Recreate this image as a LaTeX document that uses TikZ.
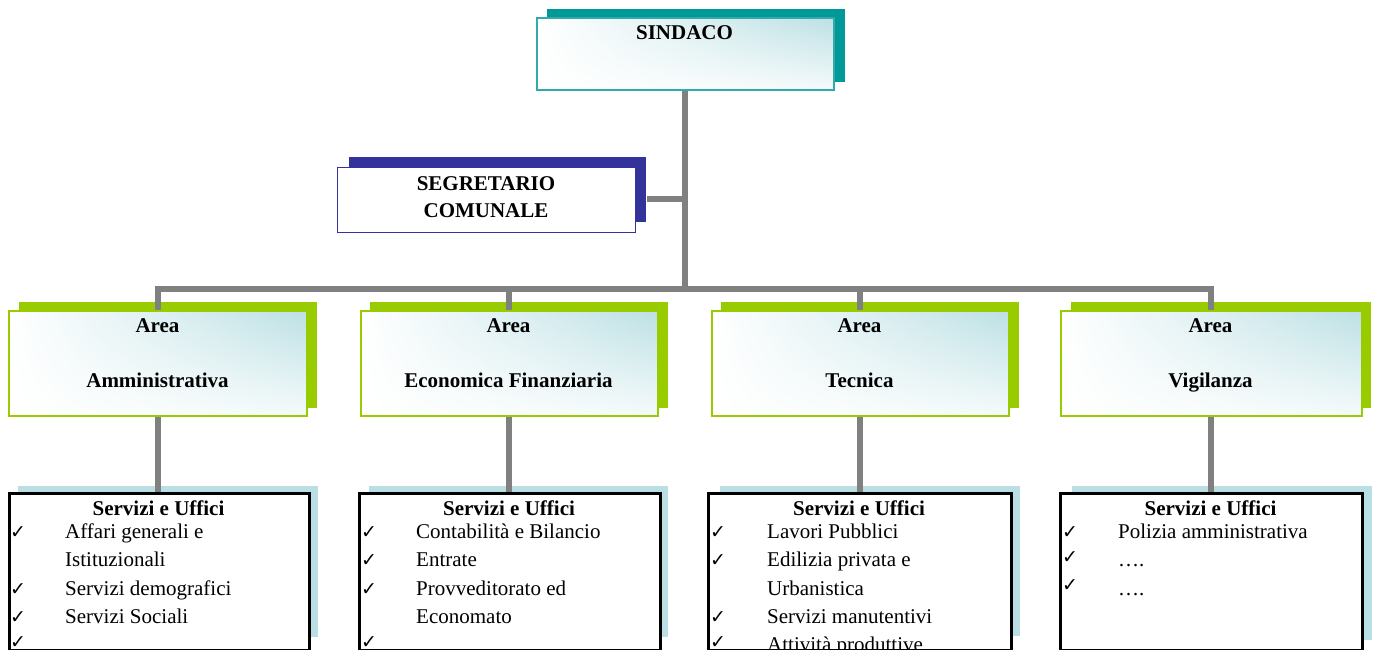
\documentclass[tikz,border=0pt]{standalone}
\usepackage{fontspec}
\usetikzlibrary{shadings}
\setmainfont{Liberation Serif}
\newfontfamily\symfnt{DejaVu Sans}
\definecolor{tealsh}{RGB}{0,153,153}
\definecolor{tealbd}{RGB}{50,170,170}
\definecolor{navy}{RGB}{51,51,153}
\definecolor{lgreen}{RGB}{153,204,0}
\definecolor{lblue}{RGB}{185,223,228}
\definecolor{lbluef}{RGB}{188,224,228}
\definecolor{conn}{RGB}{128,128,128}
\newcommand\fsz{\fontsize{21}{28}\selectfont}
\tikzset{
  box/.style={rectangle, inner sep=0, anchor=north west},
  gradbox/.style={box, line width=1.6pt, upper left=white, lower left=white, upper right=lbluef, lower right=lbluef!15},
  svcbox/.style={box, draw=black, line width=1.8pt, fill=white},
  txt/.style={anchor=base, inner sep=0, font=\fsz},
  btxt/.style={txt, font=\fsz\bfseries},
  itxt/.style={anchor=base west, inner sep=0, font=\fsz},
  chk/.style={anchor=base west, inner sep=0, font=\symfnt\fontsize{19}{19}\selectfont},
  connector/.style={draw=conn, line width=6pt},
}
\begin{document}
\begin{tikzpicture}[x=1pt,y=-1pt]
\useasboundingbox (0,0) rectangle (1377,650);
\clip (0,0) rectangle (1377,650);
\fill[white] (0,0) rectangle (1377,650);
% shadows
\fill[tealsh] (547,9) rectangle (845,82);
\fill[navy] (349,157) rectangle (646,222);
\foreach \x in {19,370,721}{\fill[lgreen] (\x,302) rectangle (\x+298,408);}
\fill[lgreen] (1071,302) rectangle (1371,408);
\fill[lblue] (18,486) rectangle (318,637);
\fill[lblue] (369,486) rectangle (668,637);
\fill[lblue] (720,486) rectangle (1020,636);
\fill[lblue] (1072,486) rectangle (1372,640);
% boxes
\node[gradbox, draw=tealbd, minimum width=297pt, minimum height=72pt] (sindaco) at (536,17) {};
\node[box, draw=navy, line width=1.4pt, fill=white, minimum width=298pt, minimum height=65pt] (segr) at (337,167) {};
\node[gradbox, draw=lgreen, minimum width=298pt, minimum height=105pt] (a1) at (8,310) {};
\node[gradbox, draw=lgreen, minimum width=297pt, minimum height=105pt] (a2) at (360,310) {};
\node[gradbox, draw=lgreen, minimum width=297pt, minimum height=105pt] (a3) at (711,310) {};
\node[gradbox, draw=lgreen, minimum width=301pt, minimum height=105pt] (a4) at (1060,310) {};
\node[svcbox, minimum width=299pt, minimum height=156pt] (s1) at (9,493) {};
\node[svcbox, minimum width=300pt, minimum height=156pt] (s2) at (359,493) {};
\node[svcbox, minimum width=302pt, minimum height=156pt] (s3) at (708,493) {};
\node[svcbox, minimum width=301pt, minimum height=156pt] (s4) at (1060,493) {};
% connectors
\coordinate (trunk) at (685,289);
\coordinate (segj) at (685,199);
\coordinate (b1) at (157.5,289);
\coordinate (b2) at (508.5,289);
\coordinate (b3) at (859.5,289);
\coordinate (b4) at (1210.5,289);
\path[connector] (sindaco.south -| trunk) -- (trunk);
\path[connector] (segr.east |- segj) ++(11,0) -- (segj);
\path[connector] (b1) ++(-3,0) -- ([xshift=3pt]b4);
\path[connector] (b1) -- (a1.north -| b1);
\path[connector] (b2) -- (a2.north -| b2);
\path[connector] (b3) -- (a3.north -| b3);
\path[connector] (b4) -- (a4.north -| b4);
\path[connector] (a1.south -| b1) -- (s1.north -| b1);
\path[connector] (a2.south -| b2) -- (s2.north -| b2);
\path[connector] (a3.south -| b3) -- (s3.north -| b3);
\path[connector] (a4.south -| b4) -- (s4.north -| b4);
% texts
\node[btxt] (t0) at (684.5,40) {SINDACO};
\node[btxt] (tseg1) at (486,190) {SEGRETARIO};
\node[btxt] (tseg2) at (486,218) {COMUNALE};
\foreach \c/\n [count=\i] in {157.5/Amministrativa,508.5/Economica Finanziaria,859.5/Tecnica,1210.5/Vigilanza}{
  \node[btxt] (ta\i) at (\c,332) {Area};
  \node[btxt] (tb\i) at (\c,387) {\n};
}
\foreach \c [count=\i] in {158.5,509,859,1210.5}{
  \node[btxt] (th\i) at (\c,515) {Servizi e Uffici};
}
% box 1
\foreach \y/\k in {538/c11,595/c13,623/c14,648/c15}{\node[chk] (\k) at (10,\y) {✓};}
\node[itxt] (i11) at (65,538) {Affari generali e};
\node[itxt] (i12) at (65,566.5) {Istituzionali};
\node[itxt] (i13) at (65,595) {Servizi demografici};
\node[itxt] (i14) at (65,623) {Servizi Sociali};
% box 2
\foreach \y/\k in {538/c21,566.5/c22,595/c23,648/c25}{\node[chk] (\k) at (361,\y) {✓};}
\node[itxt] (i21) at (416,538) {Contabilità e Bilancio};
\node[itxt] (i22) at (416,566.5) {Entrate};
\node[itxt] (i23) at (416,595) {Provveditorato ed};
\node[itxt] (i24) at (416,623) {Economato};
% box 3
\foreach \y/\k in {538/c31,566.5/c32,623/c34,648/c35}{\node[chk] (\k) at (710,\y) {✓};}
\node[itxt] (i31) at (767,538) {Lavori Pubblici};
\node[itxt] (i32) at (767,566.5) {Edilizia privata e};
\node[itxt] (i33) at (767,595) {Urbanistica};
\node[itxt] (i34) at (767,623) {Servizi manutentivi};
\node[itxt] (i35) at (767,651.5) {Attività produttive};
% box 4
\foreach \y/\k in {538/c41,563/c42,591/c43}{\node[chk] (\k) at (1062,\y) {✓};}
\node[itxt] (i41) at (1118,538) {Polizia amministrativa};
\node[itxt] (i42) at (1118,566.5) {….};
\node[itxt] (i43) at (1118,595) {….};
% redraw service box borders on top
\foreach \s in {s1,s2,s3,s4}{\draw[black, line width=1.8pt] (\s.north west) rectangle (\s.south east);}
\end{tikzpicture}
\end{document}
